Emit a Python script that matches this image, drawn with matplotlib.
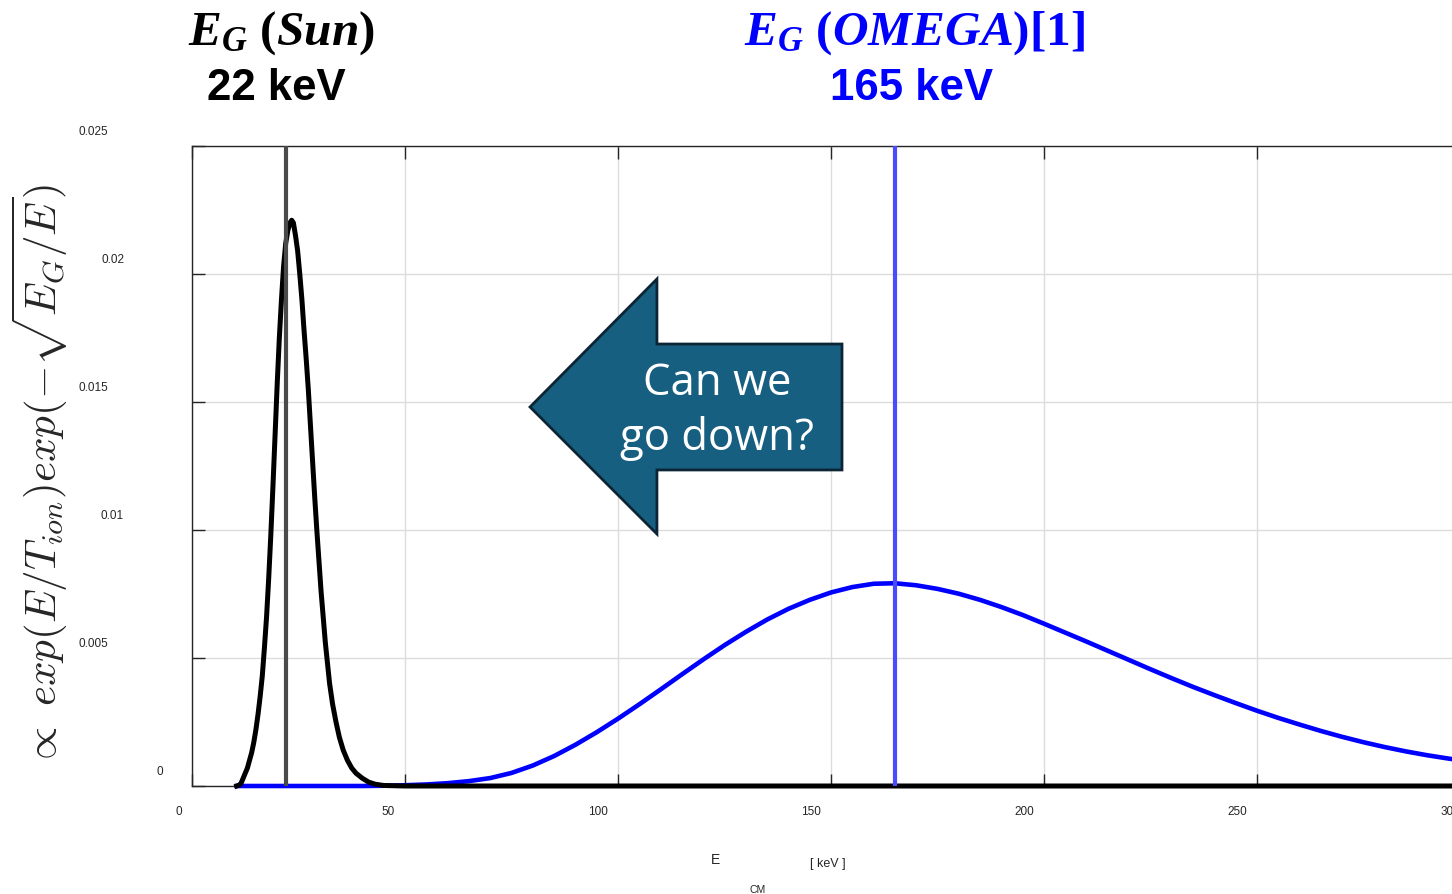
import matplotlib
matplotlib.use('Agg')
import matplotlib.pyplot as plt
from matplotlib.patches import Polygon
from matplotlib.transforms import ScaledTranslation, blended_transform_factory

# Gamow peak for the Sun (energy in keV, relative probability)
sun_energy = [10.5, 11, 11.5, 12, 12.5, 13, 13.5, 14, 14.5, 15, 15.5, 16,
              16.5, 17, 17.5, 18, 18.5, 19, 19.5, 20, 20.5, 21, 21.5, 22,
              22.5, 23, 23.4, 23.8, 24.3, 24.8, 25.3, 25.8, 26.3, 26.8, 27.3,
              27.8, 28.3, 28.8, 29.3, 29.8, 30.3, 30.8, 31.3, 31.8, 32.3, 33,
              33.8, 34.6, 35.5, 36.5, 37.5, 38.5, 40, 41.5, 43, 45, 50, 300]
sun_prob = [0.0, 0.00003, 0.0001, 0.0003, 0.0005, 0.0007, 0.0010, 0.0013,
            0.0017, 0.0022, 0.0028, 0.0035, 0.0043, 0.0054, 0.0066, 0.0081,
            0.0098, 0.0117, 0.0137, 0.0157, 0.0175, 0.0190, 0.0203, 0.0212,
            0.0217, 0.0220, 0.0221, 0.0220, 0.0215, 0.0209, 0.0200, 0.0190,
            0.0178, 0.0167, 0.0155, 0.0141, 0.0127, 0.0113, 0.0100, 0.0088,
            0.0076, 0.0066, 0.0056, 0.0048, 0.0040, 0.0032, 0.0025, 0.0019,
            0.0014, 0.0010, 0.0007, 0.0005, 0.0003, 0.00015, 0.00007,
            0.00002, 0.0, 0.0]

# Gamow peak for OMEGA
omega_energy = [10.5, 40, 45, 50, 55, 60, 65, 70, 75, 80, 85, 90, 95, 100,
                105, 110, 115, 120, 125, 130, 135, 140, 145, 150, 155, 160,
                165, 170, 175, 180, 185, 190, 195, 200, 205, 210, 215, 220,
                225, 230, 235, 240, 245, 250, 255, 260, 265, 270, 275, 280,
                285, 290, 295, 300]
omega_prob = [0.0, 0.0, 0.00001, 0.00003, 0.00006, 0.00011, 0.00019, 0.00031,
              0.00051, 0.00080, 0.00117, 0.00161, 0.00210, 0.00263, 0.00319,
              0.00377, 0.00436, 0.00494, 0.00550, 0.00602, 0.00650, 0.00692,
              0.00727, 0.00756, 0.00777, 0.00790, 0.00792, 0.00784, 0.00770,
              0.00751, 0.00727, 0.00699, 0.00668, 0.00634, 0.00599, 0.00564,
              0.00528, 0.00492, 0.00456, 0.00421, 0.00387, 0.00355, 0.00324,
              0.00294, 0.00266, 0.00240, 0.00215, 0.00192, 0.00171, 0.00152,
              0.00135, 0.00120, 0.00107, 0.00095]

peak_energy = [22, 165]
peak_names = ['Sun', 'OMEGA']

xticks = [0, 50, 100, 150, 200, 250, 300]
yticks = [0, 0.005, 0.01, 0.015, 0.02, 0.025]
ytick_labels = ['0', '0.005', '0.01', '0.015', '0.02', '0.025']
ytick_label_x = [163, 108, 124, 108, 124, 108]   # right edge of each label, px

W, H = 1452, 895
plt.rcParams['mathtext.fontset'] = 'custom'
plt.rcParams['mathtext.rm'] = 'Liberation Serif:bold'
plt.rcParams['mathtext.it'] = 'Liberation Serif:italic:bold'
plt.rcParams['mathtext.bf'] = 'Liberation Serif:bold'

fig = plt.figure(figsize=(W / 100, H / 100), dpi=100)
ax = fig.add_axes([192 / W, (H - 787) / H, (1470 - 192) / W, 640 / H])

ax.plot(omega_energy, omega_prob, color='#0000ff', lw=3.3, zorder=3,
        clip_on=False, solid_joinstyle='round')
ax.plot(sun_energy, sun_prob, color='black', lw=3.6, zorder=4,
        clip_on=False, solid_joinstyle='round')
ax.axvline(peak_energy[0], color='#4a4a4a', lw=3.0, zorder=5)
ax.axvline(peak_energy[1], color='#4a4aff', lw=3.0, zorder=5)

ax.set_xlim(0, 300)
ax.set_ylim(0, 0.025)
ax.set_xticks(xticks)
ax.set_yticks(yticks)
ax.set_yticklabels([])
ax.grid(True, color='#dcdcdc', lw=1.0)
ax.set_axisbelow(True)
ax.tick_params(direction='in', length=9, width=1.0, color='#262626',
               top=True, right=True, labelsize=8.5, pad=14, labelcolor='#262626')
for s in ax.spines.values():
    s.set_color('#262626')
    s.set_linewidth(1.0)

shift = ScaledTranslation(-10 / 100, 0, fig.dpi_scale_trans)
for lab in ax.get_xticklabels():
    lab.set_fontfamily('Liberation Sans')
    lab.set_horizontalalignment('right')
    lab.set_transform(lab.get_transform() + shift)

ytrans = blended_transform_factory(fig.transFigure, ax.transData) + \
    ScaledTranslation(0, 15 / 100, fig.dpi_scale_trans)
for v, lab, px in zip(yticks, ytick_labels, ytick_label_x):
    fig.text(px / W, v, lab, transform=ytrans, ha='right', va='center',
             fontsize=8.5, family='Liberation Sans', color='#262626')

# arrow callout
arrow = Polygon([(0.2645, 0.5922), (0.3638, 0.7922), (0.3638, 0.6906),
                 (0.5086, 0.6906), (0.5086, 0.4938), (0.3638, 0.4938),
                 (0.3638, 0.3938)], closed=True, transform=ax.transAxes,
                facecolor='#175f80', edgecolor='#0b2535', lw=2, zorder=6)
ax.add_patch(arrow)
ax.text(0.4108, 0.5875, 'Can we\ngo down?', transform=ax.transAxes,
        ha='center', va='center', color='white', fontsize=31.5,
        family='Open Sans', linespacing=1.3, zorder=7)

# headings over the two peaks
fig.text(281 / W, 1 - 33 / H, r'$E_G\ (Sun)$', ha='center', va='center',
         fontsize=35.5, color='black')
fig.text(276 / W, 1 - 88 / H, '22 keV', ha='center', va='center',
         fontsize=31.5, fontweight='bold', family='Liberation Sans', color='black')
fig.text(915 / W, 1 - 33 / H, r'$E_G\ (OMEGA)[1]$', ha='center', va='center',
         fontsize=35.5, color='#0000ff')
fig.text(911 / W, 1 - 88 / H, '165 keV', ha='center', va='center',
         fontsize=31.5, fontweight='bold', family='Liberation Sans', color='#0000ff')

# axis labels
fig.text(40 / W, 1 - 475 / H,
         r'$\propto\ exp(E/T_{ion})exp(-\sqrt{E_G/E})$',
         rotation=90, ha='center', va='center', fontsize=31,
         math_fontfamily='cm', color='#262626')
fig.text(716 / W, 1 - 860 / H, 'E', ha='center', va='center', fontsize=10,
         family='Liberation Sans', color='#262626')
fig.text(758 / W, 1 - 890 / H, 'CM', ha='center', va='center', fontsize=7.5,
         family='Liberation Sans', color='#262626')
fig.text(828 / W, 1 - 864 / H, '[ keV ]', ha='center', va='center', fontsize=9,
         family='Liberation Sans', color='#262626')

fig.savefig('out.png', dpi=100)
